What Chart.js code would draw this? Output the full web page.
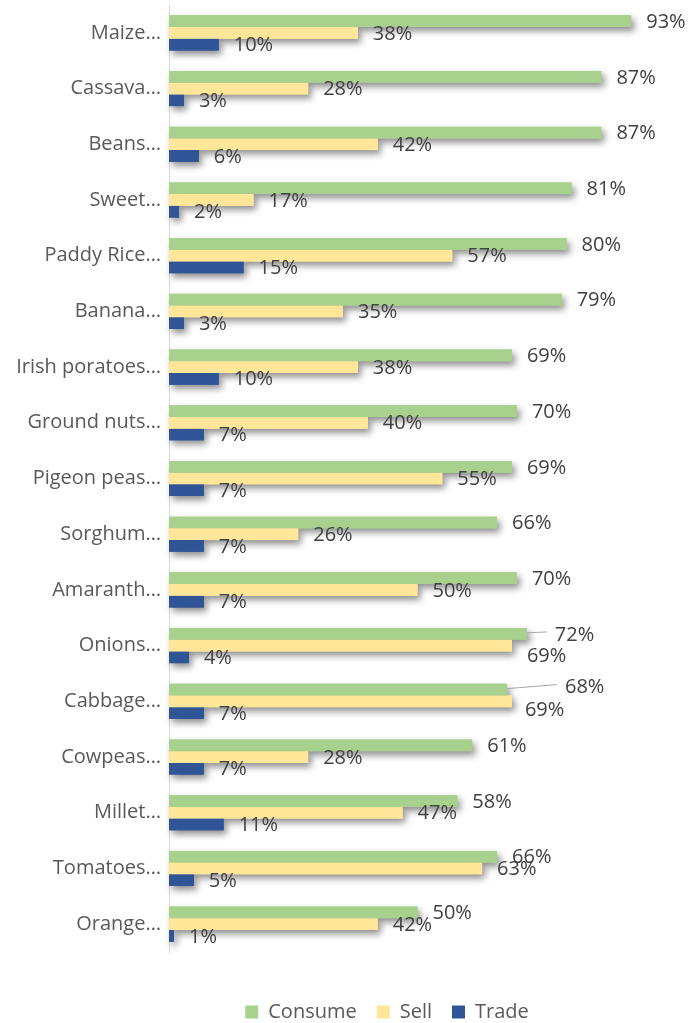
<!DOCTYPE html>
<html>
<head>
<meta charset="utf-8">
<script src="https://cdn.jsdelivr.net/npm/chart.js@4.4.1/dist/chart.umd.min.js"></script>
<style>
  html, body { margin: 0; padding: 0; background: #fff; }
  #wrap { width: 690px; height: 1023px; }
</style>
</head>
<body>
<div id="wrap"><canvas id="crops"></canvas></div>
<script>
const crops = ['Maize…', 'Cassava…', 'Beans…', 'Sweet…', 'Paddy Rice…', 'Banana…', 'Irish poratoes…',
  'Ground nuts…', 'Pigeon peas…', 'Sorghum…', 'Amaranth…', 'Onions…', 'Cabbage…', 'Cowpeas…',
  'Millet…', 'Tomatoes…', 'Orange…'];
const consume = [93, 87, 87, 81, 80, 79, 69, 70, 69, 66, 70, 72, 68, 61, 58, 66, 50];
const sell = [38, 28, 42, 17, 57, 35, 38, 40, 55, 26, 50, 69, 69, 28, 47, 63, 42];
const trade = [10, 3, 6, 2, 15, 3, 10, 7, 7, 7, 7, 4, 7, 7, 11, 5, 1];

const FONT = "'Open Sans', sans-serif";

// labels that were dragged away from the bar end (dx/dy in px, optional leader line)
const labelNudge = {
  'Onions…|0': { dx: 13, dy: 0, leader: true },
  'Onions…|1': { dx: 0, dy: 10 },
  'Cabbage…|0': { dx: 43, dy: -3, leader: true },
  'Cabbage…|1': { dx: -2, dy: 8 }
};

// soft drop shadow: paint every bar once with a shadow, top bar first,
// then chart.js paints the bars again cleanly on top
const barShadow = {
  id: 'barShadow',
  beforeDatasetsDraw(chart) {
    const ctx = chart.ctx;
    ctx.save();
    ctx.shadowColor = 'rgba(0,0,0,0.45)';
    ctx.shadowBlur = 7;
    ctx.shadowOffsetX = 3;
    ctx.shadowOffsetY = 4;
    chart.data.datasets.forEach((ds, di) => {
      ctx.fillStyle = ds.backgroundColor;
      chart.getDatasetMeta(di).data.forEach(bar => {
        const p = bar.getProps(['x', 'y', 'base', 'height'], true);
        ctx.fillRect(p.base, p.y - p.height / 2, p.x - p.base, p.height);
      });
    });
    ctx.restore();
  }
};

// percentage labels at the end of each bar
const endLabels = {
  id: 'endLabels',
  afterDraw(chart) {
    const ctx = chart.ctx;
    ctx.save();
    ctx.font = '20px ' + FONT;
    ctx.fillStyle = '#404040';
    ctx.textAlign = 'left';
    ctx.textBaseline = 'middle';
    chart.data.datasets.forEach((ds, di) => {
      chart.getDatasetMeta(di).data.forEach((bar, i) => {
        const n = labelNudge[crops[i] + '|' + di] || { dx: 0, dy: 0 };
        const x = bar.x + 15 + n.dx;
        const y = bar.y + 1 + n.dy;
        if (n.leader) {
          ctx.strokeStyle = '#a6a6a6';
          ctx.lineWidth = 1;
          ctx.beginPath();
          ctx.moveTo(bar.x, bar.y - 1);
          ctx.lineTo(x - 8, y - 3);
          ctx.stroke();
        }
        ctx.fillText(ds.data[i] + '%', x, y);
      });
    });
    ctx.restore();
  }
};

// legend sits a little right of centre
const legendShift = {
  id: 'legendShift',
  afterLayout(chart) {
    chart.legend.left += 54;
    chart.legend.right += 54;
  }
};

new Chart(document.getElementById('crops'), {
  type: 'bar',
  data: {
    labels: crops,
    datasets: [
      { label: 'Consume', data: consume, backgroundColor: '#A9D18E' },
      { label: 'Sell', data: sell, backgroundColor: '#FFE699' },
      { label: 'Trade', data: trade, backgroundColor: '#2F5597' }
    ]
  },
  options: {
    indexAxis: 'y',
    responsive: true,
    maintainAspectRatio: false,
    animation: false,
    borderWidth: 0,
    categoryPercentage: 0.63,
    barPercentage: 1,
    layout: { padding: { top: 5, right: 24, bottom: -9, left: 0 } },
    scales: {
      x: {
        min: 0,
        max: 100,
        ticks: { display: false },
        grid: { display: false, drawTicks: false },
        border: { display: false },
        afterFit(scale) { scale.height = 30; }
      },
      y: {
        grid: { display: false, drawTicks: false },
        border: { display: true, color: '#d9d9d9', width: 1 },
        ticks: { color: '#595959', font: { family: FONT, size: 20 }, padding: 8 },
        afterFit(scale) {
          scale.width = 169;
          scale.paddingTop = 0;
          scale.paddingBottom = 0;
        }
      }
    },
    plugins: {
      legend: {
        position: 'bottom',
        labels: {
          color: '#595959',
          font: { family: FONT, size: 20 },
          boxWidth: 13,
          boxHeight: 13,
          padding: 20
        }
      },
      tooltip: { enabled: false }
    }
  },
  plugins: [barShadow, endLabels, legendShift]
});
</script>
</body>
</html>
